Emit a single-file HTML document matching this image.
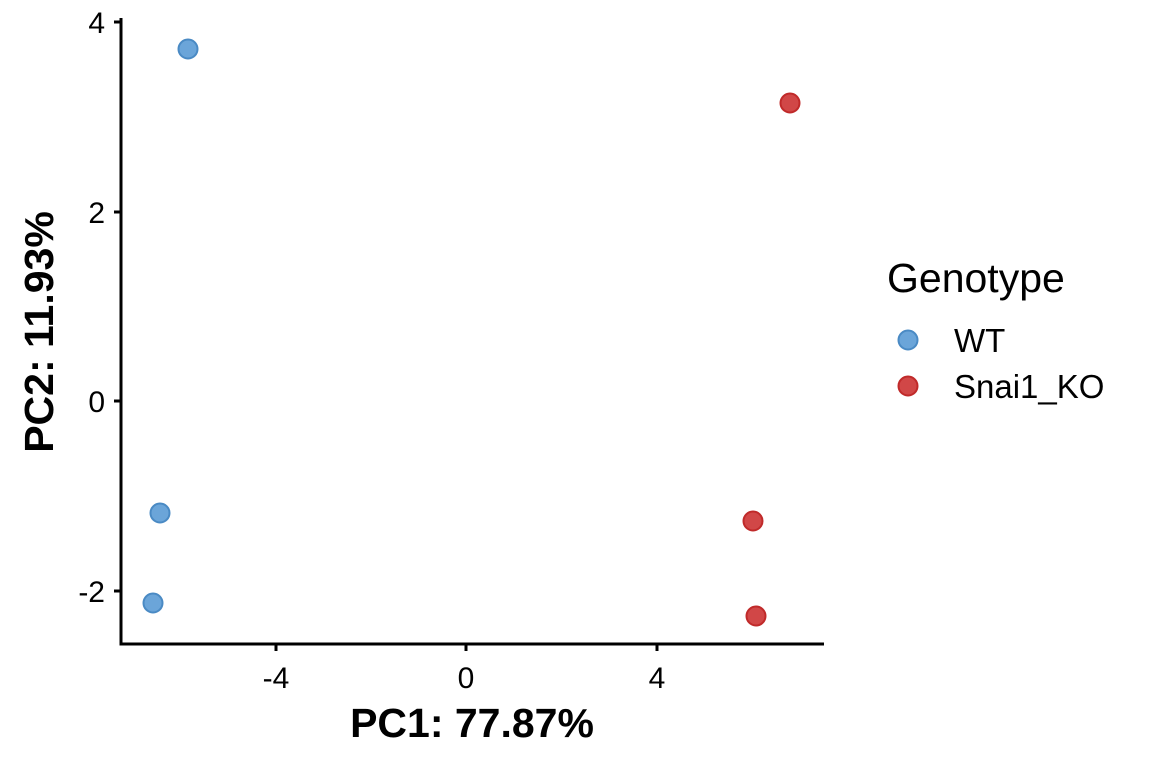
<!DOCTYPE html>
<html><head><style>body{margin:0;background:#fff}</style></head><body>
<svg width="1152" height="768" xmlns="http://www.w3.org/2000/svg" font-family="Liberation Sans, Arial, sans-serif">
<rect width="1152" height="768" fill="#fff"/>
<g stroke="#000" stroke-width="3" fill="none">
<line x1="121" y1="18" x2="121" y2="645.5"/>
<line x1="119.5" y1="644" x2="824" y2="644"/>
<line x1="114" y1="22" x2="121" y2="22"/>
<line x1="114" y1="212" x2="121" y2="212"/>
<line x1="114" y1="401" x2="121" y2="401"/>
<line x1="114" y1="591" x2="121" y2="591"/>
<line x1="276" y1="644" x2="276" y2="651"/>
<line x1="466" y1="644" x2="466" y2="651"/>
<line x1="657" y1="644" x2="657" y2="651"/>
</g>
<g font-size="30" fill="#000" text-anchor="end">
<text x="105" y="33">4</text>
<text x="105" y="223">2</text>
<text x="105" y="412">0</text>
<text x="105" y="602">-2</text>
</g>
<g font-size="30" fill="#000" text-anchor="middle">
<text x="276" y="688">-4</text>
<text x="466" y="688">0</text>
<text x="657" y="688">4</text>
</g>
<text x="472" y="737" font-size="41" font-weight="bold" text-anchor="middle">PC1: 77.87%</text>
<text transform="translate(53,332) rotate(-90)" font-size="41" font-weight="bold" text-anchor="middle">PC2: 11.93%</text>
<g fill="#5b9bd5" fill-opacity="0.9" stroke="#4a8ac4" stroke-width="2">
<circle cx="188" cy="49" r="9.5"/>
<circle cx="160" cy="513" r="9.5"/>
<circle cx="153" cy="603" r="9.5"/>
<circle cx="908" cy="340" r="9.5"/>
</g>
<g fill="#cc3333" fill-opacity="0.9" stroke="#c02a2a" stroke-width="2">
<circle cx="790" cy="103" r="9.5"/>
<circle cx="753" cy="521" r="9.5"/>
<circle cx="756" cy="616" r="9.5"/>
<circle cx="908" cy="386" r="9.5"/>
</g>
<text x="887" y="292" font-size="41">Genotype</text>
<text x="954" y="352" font-size="33">WT</text>
<text x="954" y="398" font-size="33">Snai1_KO</text>
</svg>
</body></html>
